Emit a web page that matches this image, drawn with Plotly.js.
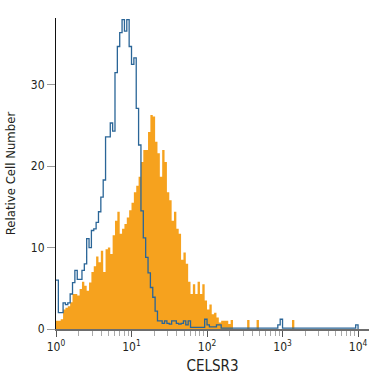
<!DOCTYPE html>
<html>
<head>
<meta charset="utf-8">
<script src="https://cdn.plot.ly/plotly-3.0.1.min.js"></script>
<style>html,body{margin:0;padding:0;background:#fff;}#chart{width:375px;height:375px;}</style>
</head>
<body>
<div id="chart"></div>
<script>
// Histogram channels: 32 bins per decade, 10^0 .. 10^4
const binsPerDecade = 32;
const orangeCounts = [
  1.0, 1.0, 1.2, 2.4, 2.6, 2.8, 3.3, 4.3, 4.3, 4.1,
  4.9, 5.8, 5.3, 4.7, 5.7, 7.0, 7.7, 8.9, 8.2, 9.6,
  7.0, 9.8, 10.0, 9.2, 11.5, 13.3, 14.4, 11.7, 12.3, 12.9,
  13.7, 14.6, 15.5, 16.8, 17.6, 18.7, 20.5, 22.0, 22.0, 24.2,
  26.3, 26.1, 23.0, 21.6, 18.7, 22.0, 20.5, 16.8, 15.8, 13.3,
  14.4, 12.3, 11.7, 8.5, 9.4, 8.0, 5.8, 4.3, 5.5, 4.3,
  5.8, 4.3, 5.5, 3.5, 2.4, 3.0, 1.8, 2.0, 1.4, 0.8,
  1.0, 1.0, 1.0, 0.6, 1.1, 0, 0, 0, 0, 0,
  0, 1.1, 0, 0, 0, 1.1, 0, 0, 0, 0,
  0, 0, 0, 0, 0, 0, 0, 0, 0, 0,
  1.1, 0, 0, 0, 0, 0, 0, 0, 0, 0,
  0, 0, 0, 0, 0, 0, 0, 0, 0, 0,
  0, 0, 0, 0, 0, 0, 0, 0
];
const blueCounts = [
  6.0, 2.0, 2.0, 3.2, 3.0, 3.2, 4.3, 5.7, 7.2, 6.1,
  6.1, 7.2, 8.0, 11.1, 10.0, 12.1, 12.3, 13.1, 14.4, 16.2,
  18.3, 23.6, 23.6, 25.3, 24.3, 31.5, 34.7, 36.4, 38.0, 36.6,
  38.0, 34.7, 32.5, 33.3, 27.1, 22.6, 14.5, 11.2, 8.8, 6.9,
  5.1, 3.9, 2.2, 1.0, 1.0, 0.7, 1.0, 0.7, 0.6, 1.0,
  1.0, 0.7, 0.6, 0.7, 1.0, 0.5, 1.0, 0.2, 0.2, 0.2,
  0.2, 0.2, 0.2, 1.2, 0.5, 0.25, 0.25, 0.25, 0.5, 0.5,
  0.1, 0.1, 0.1, 0.1, 0.1, 0.1, 0.1, 0.1, 0.1, 0.1,
  0.1, 0.1, 0.1, 0.1, 0.1, 0.1, 0.1, 0.1, 0.1, 0.1,
  0.1, 0.1, 0.1, 0.1, 0.5, 1.2, 0.1, 0.1, 0.1, 0.1,
  0.1, 0.1, 0.1, 0.1, 0.1, 0.1, 0.1, 0.1, 0.1, 0.1,
  0.1, 0.1, 0.1, 0.1, 0.1, 0.1, 0.1, 0.1, 0.1, 0.1,
  0.1, 0.1, 0.1, 0.1, 0.1, 0.1, 0.1, 0.5
];
const xTickVals = [1, 10, 100, 1000, 10000];
const xTickLabels = ['10<sup>0</sup>', '10<sup>1</sup>', '10<sup>2</sup>', '10<sup>3</sup>', '10<sup>4</sup>'];
const yTickVals = [0, 10, 20, 30];
const xTitle = 'CELSR3';
const yTitle = 'Relative Cell Number';

function stepSeries(counts) {
  const xs = [], ys = [];
  for (let i = 0; i < counts.length; i++) {
    xs.push(Math.pow(10, i / binsPerDecade));
    ys.push(counts[i]);
  }
  xs.push(Math.pow(10, counts.length / binsPerDecade));
  ys.push(counts[counts.length - 1]);
  return {xs, ys};
}
const o = stepSeries(orangeCounts);
const b = stepSeries(blueCounts);
// close blue outline down to zero at the right end
b.xs.push(b.xs[b.xs.length - 1]); b.ys.push(0);

const minorVals = [];
for (let d = 0; d < 4; d++) for (let k = 2; k <= 9; k++) minorVals.push(k * Math.pow(10, d));

const FONT = '"Liberation Sans Narrow", "DejaVu Sans Condensed", "Arial Narrow", sans-serif';

const traces = [
  {x: o.xs, y: o.ys, type: 'scatter', mode: 'lines', line: {shape: 'hv', width: 0, color: '#F6A21E'},
   fill: 'tozeroy', fillcolor: '#F6A21E', hoverinfo: 'skip'},
  {x: b.xs, y: b.ys, type: 'scatter', mode: 'lines', line: {shape: 'hv', width: 1.3, color: '#2a6597'},
   hoverinfo: 'skip'}
];

const layout = {
  width: 375, height: 375,
  margin: {l: 56, r: 6, t: 18, b: 46},
  paper_bgcolor: '#fff', plot_bgcolor: '#fff',
  showlegend: false,
  font: {family: FONT, color: '#231f20', size: 12},
  xaxis: {
    type: 'log', range: [0, 4.145], fixedrange: true,
    showline: true, linecolor: '#6d6d6d', linewidth: 1.5,
    showgrid: false, zeroline: false,
    tickmode: 'array', tickvals: xTickVals, ticktext: xTickLabels,
    ticks: 'outside', ticklen: 6, tickcolor: '#555', tickwidth: 1,
    tickfont: {family: FONT, size: 12, color: '#231f20'},
    minor: {tickmode: 'array', tickvals: minorVals, ticks: 'outside', ticklen: 5, tickcolor: '#aaa', tickwidth: 1, showgrid: false},
    title: {text: xTitle, font: {family: FONT, size: 15, color: '#231f20'}, standoff: 8}
  },
  yaxis: {
    range: [0, 38.2], fixedrange: true,
    showline: true, linecolor: '#111', linewidth: 1,
    showgrid: false, zeroline: false,
    tickmode: 'array', tickvals: yTickVals,
    ticks: 'outside', ticklen: 8, tickcolor: '#999', tickwidth: 1,
    tickfont: {family: FONT, size: 12, color: '#231f20'},
    title: {text: yTitle, font: {family: FONT, size: 13, color: '#231f20'}, standoff: 12}
  }
};

Plotly.newPlot('chart', traces, layout, {staticPlot: true, displayModeBar: false});
</script>
</body>
</html>
